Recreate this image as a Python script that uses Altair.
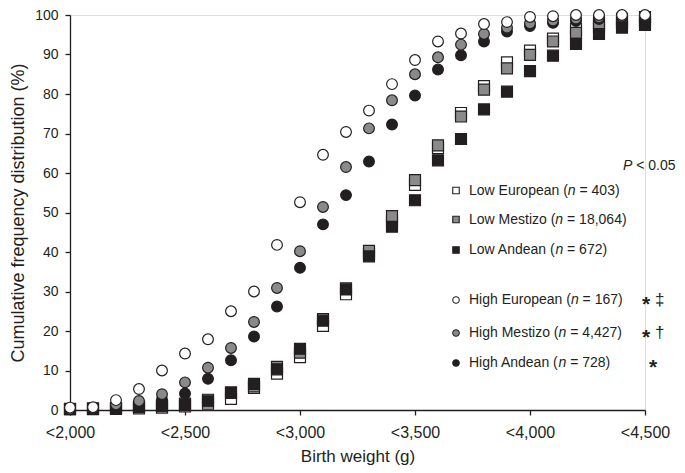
import altair as alt
import pandas as pd

# ---------------- data ----------------
weights = [2000, 2100, 2200, 2300, 2400, 2500, 2600, 2700, 2800, 2900, 3000, 3100, 3200,
           3300, 3400, 3500, 3600, 3700, 3800, 3900, 4000, 4100, 4200, 4300, 4400, 4500]

x_tick_values = [2000, 2500, 3000, 3500, 4000, 4500]
x_tick_labels = ["<2,000", "<2,500", "<3,000", "<3,500", "<4,000", "<4,500"]
y_tick_values = [0, 10, 20, 30, 40, 50, 60, 70, 80, 90, 100]

low_european = [0.2, 0.2, 0.3, 0.4, 0.6, 0.9, 1.6, 2.8, 5.6, 9.2, 13.4, 21.3, 29.3,
                39.5, 47.8, 57.0, 66.3, 75.2, 82.0, 88.0, 91.0, 94.0, 96.5, 98.0, 99.0, 99.5]
low_mestizo = [0.2, 0.3, 0.5, 0.8, 1.2, 1.6, 2.6, 4.5, 6.0, 10.9, 14.5, 23.0, 30.8,
               40.3, 49.1, 58.2, 67.0, 74.3, 81.1, 86.5, 89.9, 93.3, 95.5, 97.0, 98.0, 98.6]
low_andean = [0.3, 0.4, 0.5, 0.8, 1.0, 1.3, 2.2, 4.3, 6.6, 10.3, 15.5, 22.6, 30.5,
              38.9, 46.4, 53.1, 63.2, 68.6, 76.1, 80.6, 85.8, 89.7, 92.7, 95.2, 96.8, 97.5]
high_european = [0.6, 0.7, 2.5, 5.3, 10.0, 14.3, 17.9, 25.0, 30.0, 41.8, 52.6, 64.6, 70.4,
                 75.8, 82.5, 88.6, 93.3, 95.3, 97.7, 98.2, 99.5, 99.7, 100, 100, 100, 100]
high_mestizo = [0.3, 0.5, 1.4, 2.3, 4.0, 7.0, 10.7, 15.7, 22.3, 30.9, 40.2, 51.4, 61.5,
                71.3, 78.4, 85.0, 89.3, 92.5, 95.2, 96.8, 97.9, 98.6, 99.1, 99.4, 99.6, 99.8]
high_andean = [0.2, 0.3, 0.7, 1.4, 2.6, 4.2, 7.9, 12.6, 18.6, 26.2, 36.0, 47.0, 54.4,
               62.9, 72.3, 79.6, 86.2, 89.8, 93.3, 95.8, 97.2, 98.0, 98.5, 99.0, 99.3, 99.5]

legend_prefix = ["Low European (", "Low Mestizo (", "Low Andean (",
                 "High European (", "High Mestizo (", "High Andean ("]
legend_suffix = ["= 403)", "= 18,064)", "= 672)", "= 167)", "= 4,427)", "= 728)"]
legend_marks = ["*", "*", "*"]
legend_daggers = ["\u2021", "\u2020", ""]

# ---------------- style ----------------
INK = "#231f20"
GREY = "#8a8a8a"
WHITE = "#ffffff"
FONT = "Liberation Sans"
W, H = 575, 395
OX, OY = 70, 15  # page position of the plot origin (for the hand-laid legend)

# Arial / Liberation Sans advance widths (per 1000 em)
AW = {" ": 278, "(": 333, ")": 333, "=": 584, ",": 278, "<": 584, ".": 278,
      "L": 556, "o": 556, "w": 722, "E": 667, "u": 556, "r": 333, "p": 556, "e": 556,
      "a": 556, "n": 556, "M": 833, "s": 500, "t": 278, "i": 222, "z": 500, "A": 667,
      "d": 556, "H": 722, "g": 556, "h": 556, "P": 667}
for dgt in "0123456789":
    AW[dgt] = 556


def tw(s, fs):
    return sum(AW.get(c, 556) for c in s) * fs / 1000.0


label_expr = " : ".join(
    f"datum.value == {v} ? '{t}'" for v, t in zip(x_tick_values, x_tick_labels)) + " : ''"

x_scale = alt.Scale(domain=[2000, 4500], nice=False, zero=False)
y_scale = alt.Scale(domain=[0, 100], nice=False, zero=True)

x_axis = alt.Axis(values=x_tick_values, labelExpr=label_expr, grid=False,
                  domainColor=INK, domainWidth=1.3, tickColor=INK, tickWidth=1.3, tickSize=5,
                  labelColor=INK, labelFont=FONT, labelFontSize=16, labelPadding=9,
                  labelFlush=False, labelOverlap=False,
                  title="Birth weight (g)", titleFont=FONT, titleFontSize=17,
                  titleFontWeight="normal", titleColor=INK, titlePadding=8)
y_axis = alt.Axis(values=y_tick_values, grid=False,
                  domainColor=INK, domainWidth=1.3, tickColor=INK, tickWidth=1.3, tickSize=5,
                  labelColor=INK, labelFont=FONT, labelFontSize=14, labelPadding=7,
                  labelFlush=False, labelOverlap=False,
                  title="Cumulative frequency distribution (%)", titleFont=FONT, titleFontSize=18,
                  titleFontWeight="normal", titleColor=INK, titlePadding=7)


def series(values, shape, fill, size):
    df = pd.DataFrame({"w": weights, "pct": values})
    return alt.Chart(df).mark_point(
        shape=shape, filled=True, fill=fill, stroke=INK, strokeWidth=1.2,
        size=size, opacity=1
    ).encode(
        x=alt.X("w:Q", scale=x_scale, axis=x_axis),
        y=alt.Y("pct:Q", scale=y_scale, axis=y_axis),
    )


layers = [
    series(low_european, "square", WHITE, 120),
    series(low_mestizo, "square", GREY, 120),
    series(low_andean, "square", INK, 120),
    series(high_andean, "circle", INK, 115),
    series(high_mestizo, "circle", GREY, 115),
    series(high_european, "circle", WHITE, 115),
]

# ---------------- custom legend (laid out in page pixels, shifted to plot origin) ----------------
one = pd.DataFrame({"k": [0]})


def text_at(px, py, s, fs=14, style="normal", weight="normal"):
    return alt.Chart(one).mark_text(
        text=s, font=FONT, fontSize=fs, fontStyle=style, fontWeight=weight, color=INK,
        align="left", baseline="middle"
    ).encode(x=alt.value(px - OX), y=alt.value(py - OY))


def marker_at(px, py, shape, fill):
    return alt.Chart(one).mark_point(
        shape=shape, filled=True, fill=fill, stroke=INK, strokeWidth=1.1, size=42, opacity=1
    ).encode(x=alt.value(px - OX), y=alt.value(py - OY))


row_y = [190.5, 219.5, 250, 300, 333, 363]
row_shape = ["square", "square", "square", "circle", "circle", "circle"]
row_fill = [WHITE, GREY, INK, WHITE, GREY, INK]
marker_x = 456
text_x = 469
fs = 14
space = tw(" ", fs)

legend_layers = []
# P < 0.05
px0 = 623
legend_layers.append(text_at(px0, 166, "P", fs, "italic"))
legend_layers.append(text_at(px0 + tw("P", fs) + space, 166, "< 0.05", fs))

for i in range(6):
    y = row_y[i]
    legend_layers.append(marker_at(marker_x, y, row_shape[i], row_fill[i]))
    x0 = text_x
    legend_layers.append(text_at(x0, y, legend_prefix[i], fs))
    x1 = x0 + tw(legend_prefix[i], fs)
    legend_layers.append(text_at(x1, y, "n", fs, "italic"))
    x2 = x1 + tw("n", fs) + space
    legend_layers.append(text_at(x2, y, legend_suffix[i], fs))

for j in range(3):
    y = row_y[3 + j]
    if legend_daggers[j]:
        legend_layers.append(text_at(642, y + 5, legend_marks[j], 21, weight="bold"))
        legend_layers.append(text_at(655, y, legend_daggers[j], 17))
    else:
        legend_layers.append(text_at(649, y + 5, legend_marks[j], 21, weight="bold"))

chart = alt.layer(*layers, *legend_layers).properties(
    width=W, height=H,
    autosize=alt.AutoSizeParams(type="none"),
    padding={"left": OX - 8, "top": OY - 8, "right": 32, "bottom": 55},
).configure_view(stroke=None).configure(background="white")

chart.save("out.html", embed_options={"renderer": "svg", "actions": False})
